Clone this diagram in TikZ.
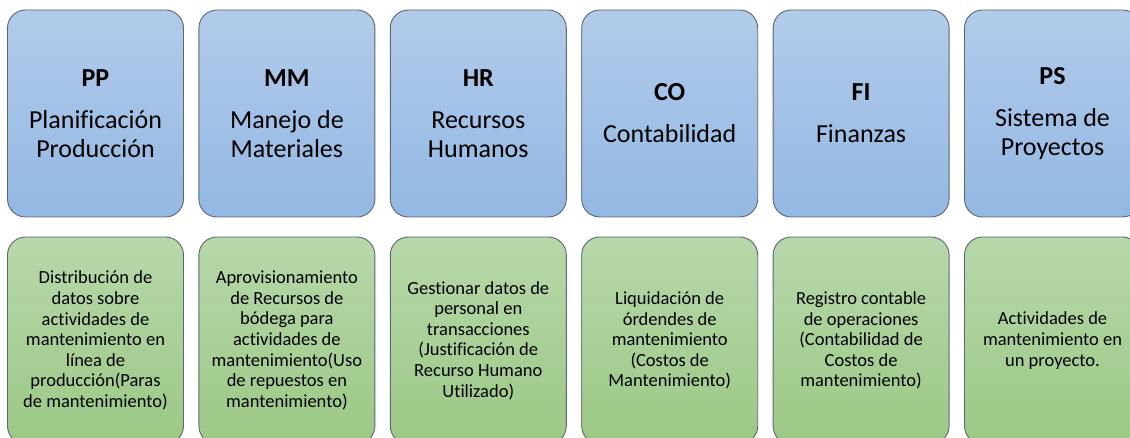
\documentclass[tikz,border=0pt]{standalone}
\usepackage{fontspec}
\setmainfont{Carlito}[Ligatures=NoCommon]
\definecolor{bluetop}{RGB}{178,203,234}
\definecolor{bluebot}{RGB}{147,184,227}
\definecolor{greentop}{RGB}{183,216,170}
\definecolor{greenbot}{RGB}{156,200,133}
\definecolor{boxline}{RGB}{92,102,112}
\tikzset{
    modbox/.style={rectangle, rounded corners=18pt, draw=boxline, line width=0.9pt,
        top color=bluetop, bottom color=bluebot, minimum width=176pt,
        minimum height=207pt, inner sep=0pt, align=center,
        font=\fontsize{26}{29}\selectfont},
    taskbox/.style={modbox, top color=greentop, bottom color=greenbot,
        font=\fontsize{18.5}{20.6}\selectfont}
}
\begin{document}
\begin{tikzpicture}[x=1pt,y=-1pt]
    \useasboundingbox (0,0) rectangle (1130,438);
    \clip (0,0) rectangle (1130,438);
    \foreach \i/\name/\code/\title in {0/pp/PP/{Planificación\\Producción},
        1/mm/MM/{Manejo de\\Materiales},
        2/hr/HR/{Recursos\\Humanos},
        3/co/CO/{Contabilidad},
        4/fi/FI/{Finanzas},
        5/ps/PS/{Sistema de\\Proyectos}}
    {
        \node[modbox] (\name) at (95.5+191.4*\i,113.5) {\textbf{\code}\\[13pt]\title};
    }
    \node[taskbox] (pp-task) at (95.5,340.5) {Distribución de\\datos sobre\\actividades de\\mantenimiento en\\línea de\\producción(Paras\\de mantenimiento)};
    \node[taskbox] (mm-task) at (286.9,340.5) {Aprovisionamiento\\de Recursos de\\bódega para\\actividades de\\mantenimiento(Uso\\de repuestos en\\mantenimiento)};
    \node[taskbox] (hr-task) at (478.3,340.5) {Gestionar datos de\\personal en\\transacciones\\(Justificación de\\Recurso Humano\\Utilizado)};
    \node[taskbox] (co-task) at (669.7,340.5) {Liquidación de\\órdendes de\\mantenimiento\\(Costos de\\Mantenimiento)};
    \node[taskbox] (fi-task) at (861.1,340.5) {Registro contable\\de operaciones\\(Contabilidad de\\Costos de\\mantenimiento)};
    \node[taskbox] (ps-task) at (1052.5,340.5) {Actividades de\\mantenimiento en\\un proyecto.};
\end{tikzpicture}
\end{document}
